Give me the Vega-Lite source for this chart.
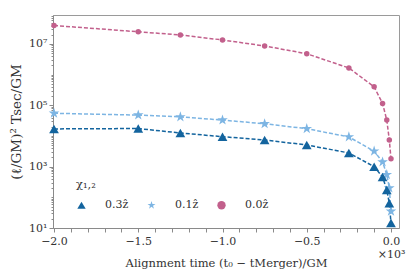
{
  "$schema": "https://vega.github.io/schema/vega-lite/v6.json",
  "width": 346,
  "height": 213,
  "autosize": "none",
  "padding": {"left": 53, "top": 15, "right": 16, "bottom": 48},
  "background": "white",
  "config": {
    "font": "DejaVu Serif",
    "view": {"stroke": "#9a9a9a", "strokeWidth": 1},
    "axis": {"grid": false, "domainColor": "#8a8a8a", "tickColor": "#8a8a8a", "labelColor": "#333", "titleColor": "#333", "labelFontSize": 11, "titleFontSize": 11.5, "titleFontWeight": "normal", "labelFont": "DejaVu Serif", "titleFont": "DejaVu Serif"},
    "legend": {
      "labelFont": "DejaVu Serif", "titleFont": "DejaVu Serif",
      "orient": "none", "legendX": 23, "legendY": 164,
      "direction": "horizontal", "columns": 3, "columnPadding": 17,
      "labelOffset": 18, "labelFontSize": 11, "titleFontSize": 11.5, "titleFontWeight": "normal",
      "titlePadding": 9, "titleAnchor": "start", "symbolSize": 70, "symbolStrokeWidth": 0,
      "labelColor": "#333", "titleColor": "#333"
    }
  },
  "data": {
    "values": [
      {"series": "0.0ẑ", "t": -2.0, "T": 40000000},
      {"series": "0.0ẑ", "t": -1.5, "T": 25000000},
      {"series": "0.0ẑ", "t": -1.25, "T": 19700000},
      {"series": "0.0ẑ", "t": -1.0, "T": 13500000},
      {"series": "0.0ẑ", "t": -0.75, "T": 8600000},
      {"series": "0.0ẑ", "t": -0.5, "T": 4800000},
      {"series": "0.0ẑ", "t": -0.25, "T": 1650000},
      {"series": "0.0ẑ", "t": -0.1, "T": 400000},
      {"series": "0.0ẑ", "t": -0.05, "T": 115000},
      {"series": "0.0ẑ", "t": -0.025, "T": 33000},
      {"series": "0.0ẑ", "t": -0.01, "T": 7400},
      {"series": "0.0ẑ", "t": 0.0, "T": 1800},
      {"series": "0.1ẑ", "t": -2.0, "T": 55000},
      {"series": "0.1ẑ", "t": -1.5, "T": 48000},
      {"series": "0.1ẑ", "t": -1.25, "T": 42000},
      {"series": "0.1ẑ", "t": -1.0, "T": 33000},
      {"series": "0.1ẑ", "t": -0.75, "T": 25000},
      {"series": "0.1ẑ", "t": -0.5, "T": 17300},
      {"series": "0.1ẑ", "t": -0.25, "T": 9300},
      {"series": "0.1ẑ", "t": -0.1, "T": 3200},
      {"series": "0.1ẑ", "t": -0.05, "T": 1420},
      {"series": "0.1ẑ", "t": -0.025, "T": 550},
      {"series": "0.1ẑ", "t": -0.01, "T": 200},
      {"series": "0.1ẑ", "t": 0.0, "T": 35},
      {"series": "0.3ẑ", "t": -2.0, "T": 17000},
      {"series": "0.3ẑ", "t": -1.5, "T": 17500},
      {"series": "0.3ẑ", "t": -1.25, "T": 12500},
      {"series": "0.3ẑ", "t": -1.0, "T": 9500},
      {"series": "0.3ẑ", "t": -0.75, "T": 7400},
      {"series": "0.3ẑ", "t": -0.5, "T": 5100},
      {"series": "0.3ẑ", "t": -0.25, "T": 2800},
      {"series": "0.3ẑ", "t": -0.1, "T": 1000},
      {"series": "0.3ẑ", "t": -0.05, "T": 460},
      {"series": "0.3ẑ", "t": -0.025, "T": 174},
      {"series": "0.3ẑ", "t": -0.01, "T": 64},
      {"series": "0.3ẑ", "t": 0.0, "T": 14.5}
    ]
  },
  "encoding": {
    "x": {
      "field": "t", "type": "quantitative",
      "scale": {"domain": [-2.006, 0.0475], "nice": false, "zero": false},
      "axis": {
        "title": "Alignment time (t₀ − tMerger)/GM",
        "values": [-2.0, -1.9, -1.8, -1.7, -1.6, -1.5, -1.4, -1.3, -1.2, -1.1, -1.0, -0.9, -0.8, -0.7, -0.6, -0.5, -0.4, -0.3, -0.2, -0.1, 0.0],
        "labelExpr": "abs(datum.value*2 - round(datum.value*2)) < 0.001 ? (abs(datum.value) < 0.001 ? ['0.0', '×10³'] : replace(format(datum.value, '.1f'), '-', '−')) : ''",
        "labelOverlap": false,
        "tickSize": 4,
        "labelPadding": 3,
        "titlePadding": -2
      }
    },
    "y": {
      "field": "T", "type": "quantitative",
      "scale": {"type": "log", "domain": [10, 88000000], "nice": false},
      "axis": {
        "title": "(ℓ/GM)² Tsec/GM",
        "titleFontSize": 13.5,
        "values": [10, 20, 30, 40, 50, 60, 70, 80, 90, 100, 200, 300, 400, 500, 600, 700, 800, 900, 1000, 2000, 3000, 4000, 5000, 6000, 7000, 8000, 9000, 10000, 20000, 30000, 40000, 50000, 60000, 70000, 80000, 90000, 100000, 200000, 300000, 400000, 500000, 600000, 700000, 800000, 900000, 1000000, 2000000, 3000000, 4000000, 5000000, 6000000, 7000000, 8000000, 9000000, 10000000, 20000000, 30000000, 40000000, 50000000, 60000000, 70000000, 80000000],
        "labelExpr": "datum.value == 10 ? '10¹' : datum.value == 1000 ? '10³' : datum.value == 100000 ? '10⁵' : datum.value == 10000000 ? '10⁷' : ''",
        "labelOverlap": false,
        "tickSize": {"condition": {"test": "datum.value == 10 || datum.value == 1000 || datum.value == 100000 || datum.value == 10000000", "value": 4}, "value": 2},
        "titlePadding": 5
      }
    }
  },
  "layer": [
    {
      "mark": {"type": "line", "strokeDash": [4, 2], "strokeWidth": 1.5},
      "encoding": {
        "stroke": {"condition": [{"test": "datum.series == '0.0ẑ'", "value": "#c2608c"}, {"test": "datum.series == '0.1ẑ'", "value": "#7db5e3"}], "value": "#13649e"},
        "detail": {"field": "series"}
      }
    },
    {
      "mark": {"type": "point", "filled": true, "opacity": 1},
      "encoding": {
        "color": {"field": "series", "type": "nominal",
          "scale": {"domain": ["0.3ẑ", "0.1ẑ", "0.0ẑ"], "range": ["#13649e", "#7db5e3", "#c2608c"]},
          "legend": {"title": "χ₁,₂"}
        },
        "shape": {"field": "series", "type": "nominal",
          "scale": {"domain": ["0.3ẑ", "0.1ẑ", "0.0ẑ"], "range": ["triangle-up", "M0,-1L0.2245,-0.309L0.951,-0.309L0.363,0.118L0.588,0.809L0,0.382L-0.588,0.809L-0.363,0.118L-0.951,-0.309L-0.2245,-0.309Z", "circle"]},
          "legend": {"title": "χ₁,₂"}
        },
        "size": {"condition": [{"test": "datum.series == '0.0ẑ'", "value": 30}, {"test": "datum.series == '0.1ẑ'", "value": 125}], "value": 95}
      }
    }
  ]
}
